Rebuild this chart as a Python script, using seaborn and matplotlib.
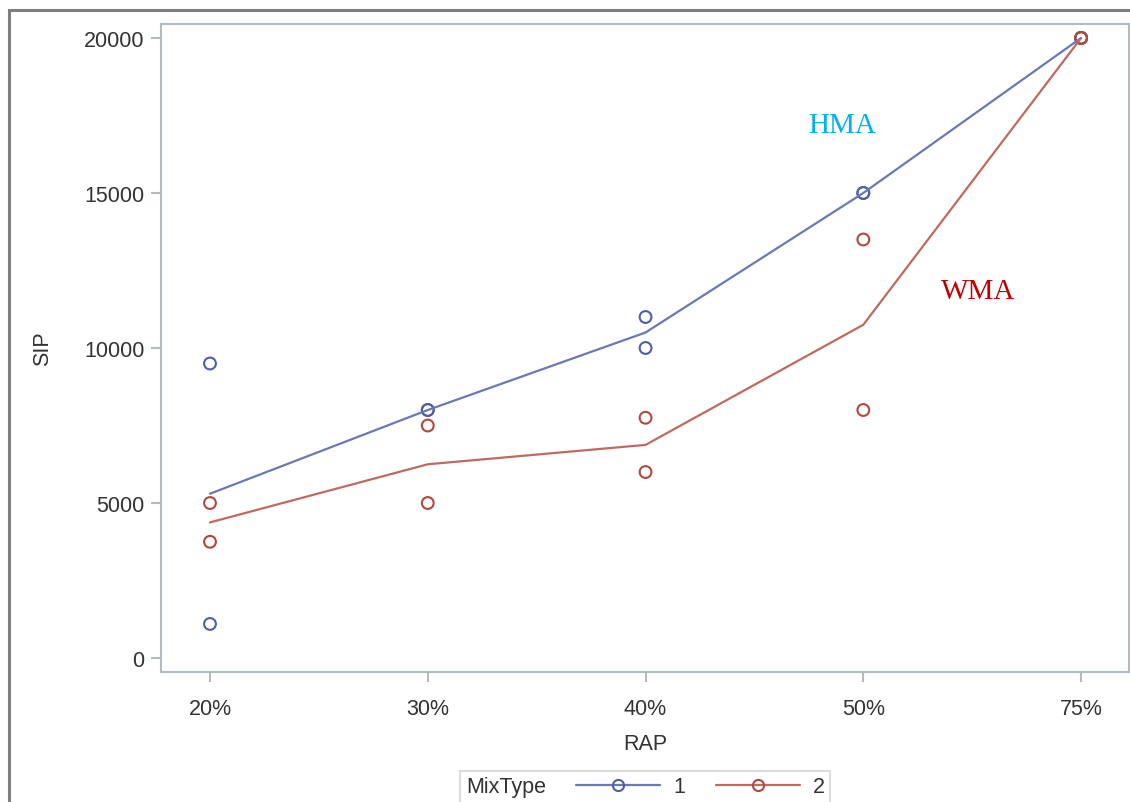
import matplotlib
matplotlib.use("Agg")
import matplotlib.pyplot as plt
import seaborn as sns
import pandas as pd
from matplotlib.lines import Line2D
from matplotlib.patches import Rectangle

# ---- data ----
rap_levels = ['20%', '30%', '40%', '50%', '75%']
sip_hma_a = [9500, 8000, 11000, 15000, 20000]
sip_hma_b = [1100, 8000, 10000, 15000, 20000]
sip_wma_a = [5000, 7500, 7750, 13500, 20000]
sip_wma_b = [3750, 5000, 6000, 8000, 20000]
mix_types = ['1', '2']
y_ticks = [0, 5000, 10000, 15000, 20000]

rows = []
for r, a, b in zip(rap_levels, sip_hma_a, sip_hma_b):
    rows += [(r, a, '1'), (r, b, '1')]
for r, a, b in zip(rap_levels, sip_wma_a, sip_wma_b):
    rows += [(r, a, '2'), (r, b, '2')]
df = pd.DataFrame(rows, columns=['RAP', 'SIP', 'MixType'])

sns.set_style("white")
plt.rcParams['font.family'] = ['Liberation Sans', 'DejaVu Sans']

line_cols = {'1': '#6A79B3', '2': '#BF6A60'}
mark_cols = {'1': '#4E5FA6', '2': '#B0483E'}

fig = plt.figure(figsize=(11.3, 8.03), dpi=100)
ax = fig.add_axes([161 / 1130, 1 - 673 / 803, (1129 - 161) / 1130, (673 - 25) / 803])

sns.lineplot(data=df, x='RAP', y='SIP', hue='MixType', hue_order=mix_types,
             palette=line_cols, estimator='mean', errorbar=None, linewidth=1.6,
             legend=False, ax=ax, sort=False)
for m in mix_types:
    sub = df[df.MixType == m]
    sns.scatterplot(data=sub, x='RAP', y='SIP', marker='o', s=72,
                    facecolors='none', edgecolor=mark_cols[m], linewidth=1.5,
                    legend=False, ax=ax)

ax.set_xlim(-0.225, 4.22)
ax.set_ylim(-450, 20450)
ax.set_yticks(y_ticks)
ax.set_yticklabels([str(v) for v in y_ticks])
ax.set_xticks(range(len(rap_levels)))
ax.set_xticklabels(rap_levels)

for s in ax.spines.values():
    s.set_color('#B4BBC0')
    s.set_linewidth(1.5)
ax.tick_params(axis='both', which='major', direction='out', length=7, width=1.5,
               color='#B4BBC0', labelsize=15.5, labelcolor='#333333', pad=5,
               left=True, bottom=True)
ax.tick_params(axis='x', pad=11.5)
ax.set_xlabel('RAP', fontsize=15.5, color='#333333', labelpad=10)
ax.set_ylabel('SIP', fontsize=15.5, color='#333333', labelpad=22)

ax.text(2.904, 17194, 'HMA', color='#00B0F0', fontsize=21,
        family=['Liberation Serif', 'DejaVu Serif'], ha='center', va='center')
ax.text(3.527, 11839, 'WMA', color='#C00000', fontsize=21,
        family=['Liberation Serif', 'DejaVu Serif'], ha='center', va='center')

# legend with inline title
handles = [Line2D([], [], color=line_cols[m], linewidth=1.6, marker='o',
                  markersize=8, markerfacecolor='none',
                  markeredgecolor=mark_cols[m], markeredgewidth=1.5)
           for m in mix_types]
leg = fig.legend(handles, mix_types, title='MixType', ncol=2, loc='center',
                 bbox_to_anchor=(0.571, 0.019), frameon=True, fancybox=False,
                 fontsize=15.5, title_fontsize=15.5, handlelength=3.9,
                 handletextpad=0.6, columnspacing=1.2, borderpad=0.25,
                 edgecolor='#C8CCD0')
for t in leg.get_texts():
    t.set_color('#333333')
leg.get_title().set_color('#333333')
leg.get_frame().set_linewidth(1.2)
c = leg.get_children()[0]
title_box = c.get_children()[0]
hpack = c.get_children()[1]
c._children = [hpack]
hpack._children.insert(0, title_box)
hpack.sep = 22

# outer frame
fig.add_artist(Rectangle((9 / 1130, -0.2), 1.2, 0.2 + (1 - 11 / 803),
                         transform=fig.transFigure, fill=False,
                         edgecolor='#7F7F7F', linewidth=2.2, clip_on=False))

fig.savefig('out.png', dpi=100)
